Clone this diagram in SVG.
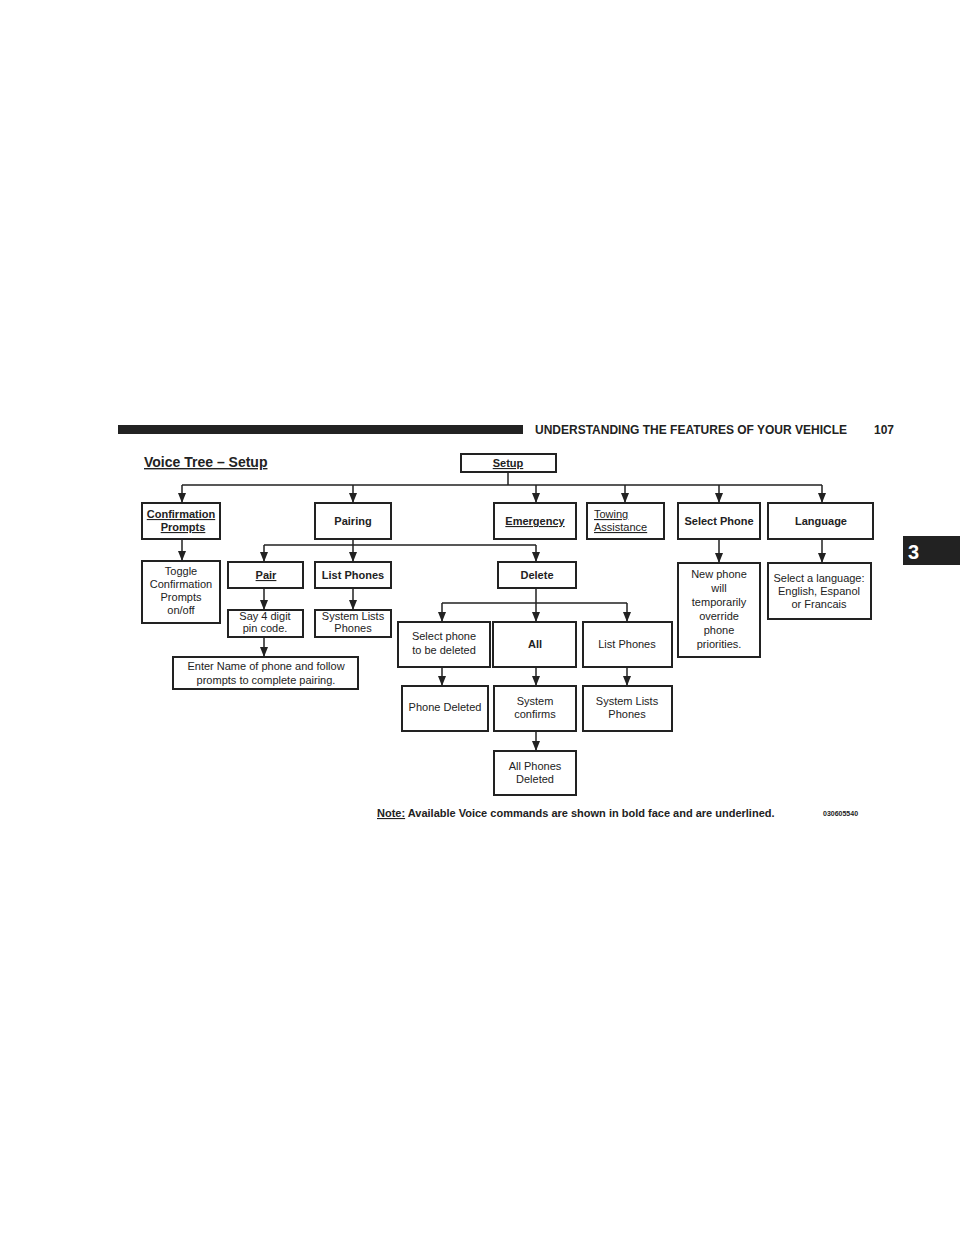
<svg xmlns="http://www.w3.org/2000/svg" width="960" height="1242" viewBox="0 0 960 1242">
<style>
text{font-family:"Liberation Sans",Arial,sans-serif;fill:#222}
.b{fill:#fff;stroke:#222;stroke-width:2}
.t{font-size:11px;text-anchor:middle}
.bd{font-weight:bold}
.u{text-decoration:underline}
.c{fill:none;stroke:#222;stroke-width:1.5}
.ar{fill:none;stroke:#222;stroke-width:1.5;marker-end:url(#a)}
</style>
<defs><marker id="a" markerWidth="10" markerHeight="8" refX="10" refY="4" orient="auto" markerUnits="userSpaceOnUse" viewBox="0 0 10 8"><path d="M0,0L10,4L0,8z" fill="#222"/></marker></defs>
<rect width="960" height="1242" fill="#fff"/>
<rect x="118" y="425" width="405" height="9" fill="#222"/>
<text x="535" y="434" font-size="12" font-weight="bold">UNDERSTANDING THE FEATURES OF YOUR VEHICLE</text>
<text x="874" y="434" font-size="12" font-weight="bold">107</text>
<rect x="903" y="536" width="57" height="29" fill="#222"/>
<text x="908" y="559" font-size="20" font-weight="bold" style="fill:#fff">3</text>
<text x="144" y="467" font-size="14" class="bd u">Voice Tree – Setup</text>
<g id="connectors">
<path class="c" d="M508,472V485M182,485H822"/>
<path class="ar" d="M182,485V503"/><path class="ar" d="M353,485V503"/><path class="ar" d="M536,485V503"/><path class="ar" d="M625,485V503"/><path class="ar" d="M719,485V503"/><path class="ar" d="M822,485V503"/>
<path class="ar" d="M182,539V561"/>
<path class="c" d="M353,539V545M264,545H536"/>
<path class="ar" d="M264,545V562"/><path class="ar" d="M353,545V562"/><path class="ar" d="M536,545V562"/>
<path class="ar" d="M264,588V610"/><path class="ar" d="M353,588V610"/><path class="ar" d="M264,637V657"/>
<path class="c" d="M536,588V603M442,603H627"/>
<path class="ar" d="M442,603V622"/><path class="ar" d="M536,603V622"/><path class="ar" d="M627,603V622"/>
<path class="ar" d="M442,667V686"/><path class="ar" d="M536,667V686"/><path class="ar" d="M627,667V686"/><path class="ar" d="M536,731V751"/>
<path class="ar" d="M719,539V563"/><path class="ar" d="M822,539V563"/>
</g>
<g id="setup"><rect class="b" x="461" y="454" width="95" height="18"/><text class="t bd u" x="508" y="467">Setup</text></g>
<g id="confirm"><rect class="b" x="142" y="503" width="78" height="36"/><text class="t bd u" x="181" y="518">Confirmation</text><text class="t bd u" x="183" y="531">Prompts</text></g>
<g id="pairing"><rect class="b" x="315" y="503" width="76" height="36"/><text class="t bd" x="353" y="525">Pairing</text></g>
<g id="emergency"><rect class="b" x="494" y="503" width="82" height="36"/><text class="t bd u" x="535" y="525">Emergency</text></g>
<g id="towing"><rect class="b" x="587" y="503" width="77" height="36"/><text class="u" font-size="11" x="594" y="518">Towing</text><text class="u" font-size="11" x="594" y="531">Assistance</text></g>
<g id="selectphone"><rect class="b" x="678" y="503" width="82" height="36"/><text class="t bd" x="719" y="525">Select Phone</text></g>
<g id="language"><rect class="b" x="768" y="503" width="105" height="36"/><text class="t bd" x="821" y="525">Language</text></g>
<g id="toggle"><rect class="b" x="142" y="561" width="78" height="62"/><text class="t" x="181" y="575">Toggle</text><text class="t" x="181" y="588">Confirmation</text><text class="t" x="181" y="601">Prompts</text><text class="t" x="181" y="614">on/off</text></g>
<g id="pair"><rect class="b" x="228" y="562" width="75" height="26"/><text class="t bd u" x="266" y="579">Pair</text></g>
<g id="listphones1"><rect class="b" x="315" y="562" width="76" height="26"/><text class="t bd" x="353" y="579">List Phones</text></g>
<g id="delete"><rect class="b" x="498" y="562" width="78" height="26"/><text class="t bd" x="537" y="579">Delete</text></g>
<g id="say4"><rect class="b" x="228" y="610" width="75" height="27"/><text class="t" x="265" y="620">Say 4 digit</text><text class="t" x="265" y="632">pin code.</text></g>
<g id="syslists1"><rect class="b" x="315" y="610" width="76" height="27"/><text class="t" x="353" y="620">System Lists</text><text class="t" x="353" y="632">Phones</text></g>
<g id="entername"><rect class="b" x="173" y="657" width="185" height="32"/><text class="t" x="266" y="670">Enter Name of phone and follow</text><text class="t" x="266" y="684">prompts to complete pairing.</text></g>
<g id="newphone"><rect class="b" x="678" y="563" width="82" height="94"/><text class="t" x="719" y="578">New phone</text><text class="t" x="719" y="592">will</text><text class="t" x="719" y="606">temporarily</text><text class="t" x="719" y="620">override</text><text class="t" x="719" y="634">phone</text><text class="t" x="719" y="648">priorities.</text></g>
<g id="selectlang"><rect class="b" x="768" y="563" width="103" height="56"/><text class="t" x="819" y="582">Select a language:</text><text class="t" x="819" y="595">English, Espanol</text><text class="t" x="819" y="608">or Francais</text></g>
<g id="selectdel"><rect class="b" x="398" y="622" width="92" height="45"/><text class="t" x="444" y="640">Select phone</text><text class="t" x="444" y="654">to be deleted</text></g>
<g id="all"><rect class="b" x="493" y="622" width="83" height="45"/><text class="t bd" x="535" y="648" font-size="10">All</text></g>
<g id="listphones2"><rect class="b" x="583" y="622" width="89" height="45"/><text class="t" x="627" y="648">List Phones</text></g>
<g id="phonedeleted"><rect class="b" x="402" y="686" width="86" height="45"/><text class="t" x="445" y="711">Phone Deleted</text></g>
<g id="sysconfirms"><rect class="b" x="494" y="686" width="82" height="45"/><text class="t" x="535" y="705">System</text><text class="t" x="535" y="718">confirms</text></g>
<g id="syslists2"><rect class="b" x="583" y="686" width="89" height="45"/><text class="t" x="627" y="705">System Lists</text><text class="t" x="627" y="718">Phones</text></g>
<g id="allphonesdel"><rect class="b" x="494" y="751" width="82" height="44"/><text class="t" x="535" y="770">All Phones</text><text class="t" x="535" y="783">Deleted</text></g>
<text x="377" y="817" font-size="11" class="bd"><tspan class="u">Note:</tspan> Available Voice commands are shown in bold face and are underlined.</text>
<text x="823" y="816" font-size="7" class="bd">030605540</text>
</svg>
